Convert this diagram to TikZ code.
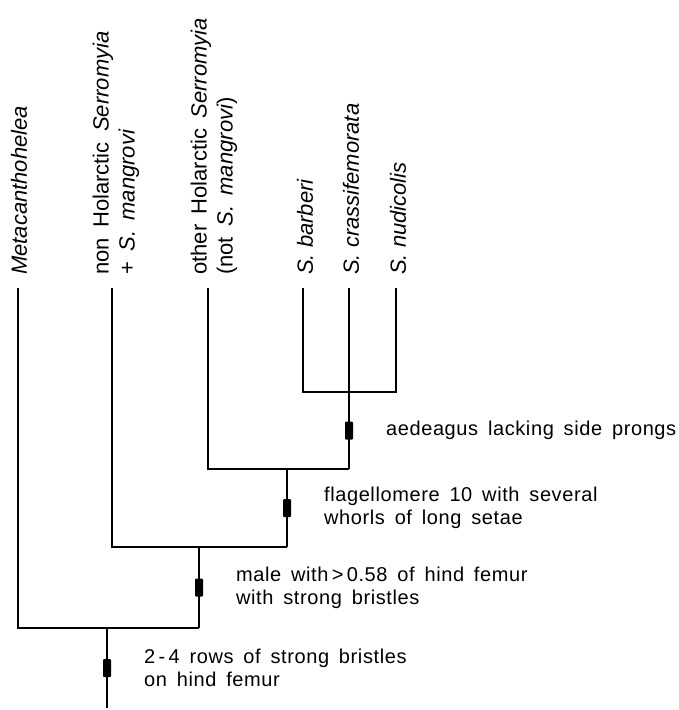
\documentclass[tikz,border=0pt]{standalone}
\usepackage{fontspec}
\setmainfont{Liberation Sans}
\newfontfamily\notefont[LetterSpace=3.0,WordSpace=1.6]{Liberation Sans}
\newfontfamily\widefont[WordSpace=1.7]{Liberation Sans}
\usetikzlibrary{positioning}

\begin{document}
\begin{tikzpicture}[
    x=1pt, y=-1pt,
    br/.style={line width=1.9pt},
    mk/.style={rectangle, fill=black, minimum width=8pt, minimum height=18pt,
               inner sep=0pt, rounded corners=1pt},
    taxon/.style={rotate=90, anchor=west, align=left, inner sep=0pt,
                  font=\fontsize{22}{26}\selectfont},
    wide/.style={font=\widefont\fontsize{22}{26}\selectfont},
    note/.style={align=left, inner sep=0pt,
                 font=\notefont\fontsize{20}{23}\selectfont},
    node distance=32pt,
  ]
  \useasboundingbox (0,0) rectangle (679,710);
  \coordinate (tMeta) at (18,288);
  \coordinate (tNon) at (112,288);
  \coordinate (tOther) at (208,288);
  \coordinate (tBarb) at (303,288);
  \coordinate (tCrass) at (349,288);
  \coordinate (tNudi) at (396,288);
  \coordinate (c7) at (349,392);
  \coordinate (c6) at (349,469);
  \coordinate (c5) at (287,469);
  \coordinate (c4) at (287,547);
  \coordinate (c3) at (199,547);
  \coordinate (c2) at (199,628);
  \coordinate (c1) at (107,628);
  \coordinate (root) at (107,708);
  \node[taxon] (lMeta) at (19,275) {\itshape Metacanthohelea};
  \node[taxon, wide] (lNon) at (116,275) {non Holarctic \textit{Serromyia}\\+ \textit{S. mangrovi}};
  \node[taxon, wide] (lOther) at (214,275) {other Holarctic \textit{Serromyia}\\(not \textit{S. mangrovi})};
  \node[taxon] (lBarb) at (305,275) {\itshape S. barberi};
  \node[taxon] (lCrass) at (351,275) {\itshape S. crassifemorata};
  \node[taxon] (lNudi) at (398,275) {\itshape S. nudicolis};
  \draw[br] (tBarb) |- (c7) -| (tNudi);
  \draw[br] (tCrass) -- (c7);
  \draw[br] (c7) -- node[mk] (m4) {} (c6);
  \draw[br] (tOther) |- (c6);
  \draw[br] (c6) -- (c5);
  \draw[br] (c5) -- node[mk] (m3) {} (c4);
  \draw[br] (tNon) |- (c4);
  \draw[br] (c4) -- (c3);
  \draw[br] (c3) -- node[mk] (m2) {} (c2);
  \draw[br] (tMeta) |- (c2);
  \draw[br] (c1) -- node[mk] (m1) {} (root);
  \node[note, right=of m4] (a4) {aedeagus lacking side prongs};
  \node[note, right=of m3] (a3) {flagellomere 10 with several\\whorls of long setae};
  \node[note, right=of m2] (a2) {male with\,>\,0.58 of hind femur\\with strong bristles};
  \node[note, right=of m1] (a1) {2\,-\,4 rows of strong bristles\\on hind femur};
\end{tikzpicture}
\end{document}
